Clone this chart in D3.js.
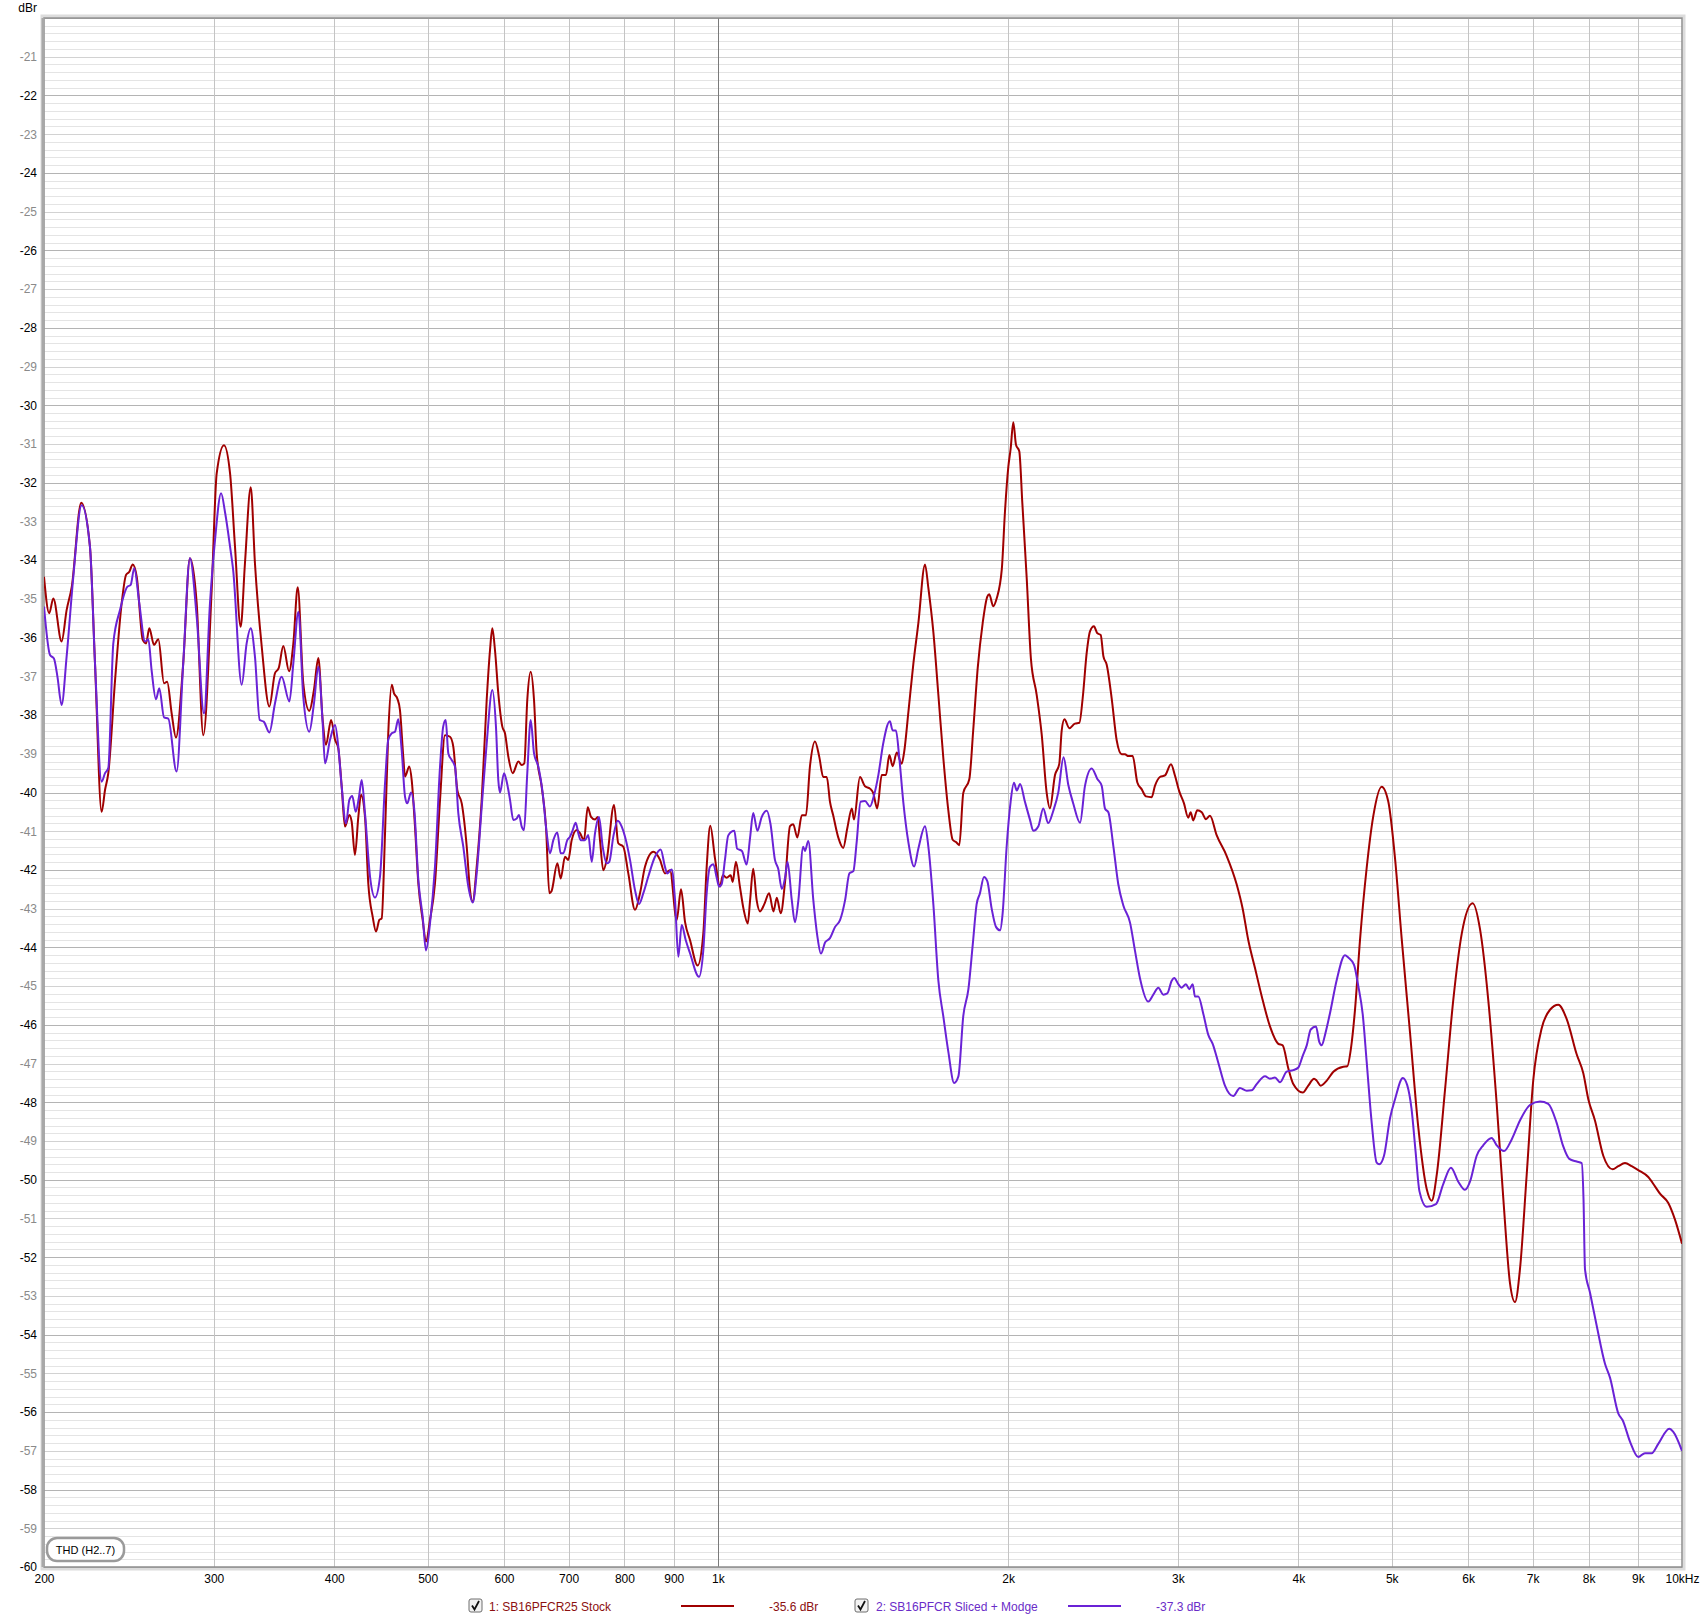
<!DOCTYPE html>
<html><head><meta charset="utf-8">
<script src="https://cdn.jsdelivr.net/npm/d3@7"></script>
<style>
html,body{margin:0;padding:0;background:#fff;}
svg{display:block;font-family:"Liberation Sans",Arial,sans-serif;}
</style></head><body>
<svg id="chart" width="1703" height="1623"></svg>
<script>
// ---- data (frequency in Hz, level in dBr) ----
const redFreq = [200,202.5,204.5,208.6,211.1,213.7,218.6,223.2,225.9,229.5,231.4,233.2,237.0,240.8,243.3,245.2,247.2,249.6,253.2,255.2,257.2,260.1,262.8,266.4,268.4,271.3,274.1,278.9,283.4,288.0,292.6,298.5,302.1,307.4,311.9,315.6,319.9,323.2,327.7,331.0,336.4,342.6,347.2,350.3,354.2,359.1,362.8,366.6,371.5,376.9,381.1,385.1,389.1,392.2,397.0,400.8,403.9,407.2,410.4,414.7,417.0,420.3,423.7,426.4,430.5,433.9,438.5,442.0,445.5,448.0,451.6,455.1,458.9,461.4,465.0,468.0,471.7,473.7,478.5,481.3,485.1,489.0,494.1,498.0,502.8,508.8,515.0,521.1,527.4,531.6,536.7,542.4,548.9,553.2,556.8,562.1,568.9,575.7,580.3,583.5,587.2,591.9,597.6,601.4,606.2,612.6,620.9,625.9,629.8,634.3,639.5,644.6,648.7,656.5,663.3,668.6,672.1,681.5,687.0,694.1,699.6,705.3,713.8,719.4,726.3,732.8,738.6,745.7,750.5,754.6,760.6,766.8,780.3,788.3,797.8,807.4,820.4,830.3,840.2,857.1,870.9,881.3,891.9,906.3,915.7,924.5,935.6,952.9,965.8,973.6,982.0,993.1,1005,1012,1021,1031,1036,1044,1054,1063,1074,1080,1088,1097,1106,1117,1130,1142,1151,1162,1174,1188,1197,1209,1222,1234,1246,1261,1274,1286,1297,1307,1317,1333,1349,1362,1377,1384,1404,1421,1438,1449,1463,1479,1494,1506,1518,1533,1551,1560,1576,1595,1614,1640,1653,1673,1693,1713,1734,1752,1766,1780,1797,1823,1840,1860,1882,1903,1912,1930,1946,1970,1985,2001,2012,2025,2038,2054,2069,2091,2112,2141,2167,2193,2210,2237,2260,2273,2288,2315,2346,2371,2390,2413,2432,2455,2475,2495,2511,2531,2561,2592,2623,2644,2665,2693,2723,2752,2780,2818,2840,2874,2909,2951,2979,3010,3044,3075,3093,3112,3142,3176,3208,3239,3291,3371,3452,3502,3549,3607,3665,3738,3813,3853,3905,3952,4042,4096,4153,4179,4220,4281,4349,4454,4496,4536,4580,4635,4709,4784,4881,4959,5039,5120,5223,5327,5435,5500,5567,5678,5791,5909,6066,6173,6296,6424,6526,6631,6711,6791,6901,7010,7153,7296,7442,7593,7776,7900,7995,8123,8286,8474,8588,8727,8868,9008,9226,9375,9488,9678,9834,10000];
const redDb = [-34.43,-35.37,-34.99,-36.10,-35.29,-34.69,-32.52,-33.65,-36.66,-40.50,-39.93,-39.50,-37.10,-35.10,-34.38,-34.30,-34.11,-34.43,-36.06,-36.15,-35.76,-36.19,-36.04,-37.18,-37.14,-37.96,-38.58,-36.66,-33.95,-35.11,-38.52,-34.77,-31.76,-31.03,-31.76,-33.65,-35.72,-34.08,-32.12,-34.08,-36.23,-37.78,-36.92,-36.79,-36.22,-36.87,-36.15,-34.70,-37.18,-37.89,-37.35,-36.53,-38.13,-38.77,-38.13,-38.64,-38.86,-39.85,-40.88,-40.58,-40.75,-41.61,-40.63,-40.06,-40.63,-42.35,-43.21,-43.59,-43.29,-43.25,-41.05,-38.47,-37.22,-37.44,-37.57,-37.87,-39.07,-39.59,-39.33,-39.68,-40.88,-42.35,-43.29,-43.85,-43.29,-42.35,-40.19,-38.52,-38.56,-38.82,-39.94,-40.28,-41.40,-42.52,-42.82,-41.92,-40.19,-37.61,-36.32,-35.76,-36.32,-37.44,-38.30,-38.47,-39.07,-39.50,-39.20,-39.29,-39.25,-37.61,-36.88,-37.61,-38.99,-39.85,-40.88,-42.60,-42.55,-41.83,-42.22,-41.66,-41.74,-41.23,-40.97,-41.05,-41.23,-40.38,-40.63,-40.70,-40.63,-41.23,-42.01,-41.74,-40.32,-41.31,-41.40,-42.09,-43.03,-42.60,-41.92,-41.53,-41.74,-42.09,-42.01,-43.29,-42.50,-43.34,-43.81,-44.47,-43.64,-41.92,-40.86,-41.70,-42.43,-42.14,-42.20,-42.14,-42.31,-41.79,-42.43,-43.00,-43.38,-42.78,-41.97,-42.78,-43.07,-42.89,-42.60,-43.07,-42.72,-43.12,-42.31,-40.87,-40.82,-41.16,-40.59,-40.59,-39.32,-38.68,-39.08,-39.60,-39.60,-40.24,-40.59,-41.16,-41.43,-40.93,-40.41,-40.70,-39.60,-39.84,-39.90,-40.01,-40.41,-39.55,-39.55,-39.03,-39.32,-38.97,-39.26,-38.97,-37.93,-36.67,-35.63,-34.11,-34.71,-35.86,-37.47,-39.09,-40.47,-41.22,-41.28,-41.36,-40.01,-39.66,-38.40,-36.78,-35.63,-34.94,-34.88,-35.19,-34.99,-34.24,-32.75,-31.59,-31.13,-30.44,-31.02,-31.19,-32.52,-34.48,-36.55,-37.47,-38.50,-40.01,-40.41,-39.55,-39.26,-38.40,-38.11,-38.34,-38.22,-38.20,-37.56,-36.39,-35.84,-35.71,-35.89,-35.93,-36.48,-36.70,-37.56,-38.65,-39.01,-39.01,-39.06,-39.06,-39.74,-39.92,-40.10,-40.12,-39.83,-39.60,-39.56,-39.27,-39.56,-39.97,-40.28,-40.65,-40.51,-40.72,-40.46,-40.51,-40.69,-40.60,-41.10,-41.64,-42.37,-43.00,-43.81,-44.54,-45.26,-46.04,-46.49,-46.53,-47.12,-47.53,-47.75,-47.57,-47.39,-47.44,-47.57,-47.44,-47.21,-47.08,-47.07,-46.60,-45.60,-43.80,-41.95,-40.61,-39.85,-40.24,-41.70,-43.78,-46.21,-48.65,-50.24,-50.54,-49.87,-47.68,-45.36,-43.65,-42.86,-43.53,-45.36,-48.04,-50.48,-52.67,-53.16,-52.31,-49.87,-47.43,-46.09,-45.61,-45.48,-45.85,-46.76,-47.25,-47.92,-48.47,-49.38,-49.73,-49.65,-49.57,-49.65,-49.75,-49.93,-50.17,-50.36,-50.60,-51.03,-51.65];

const purpleFreq = [200,202.9,204.8,206.5,208.6,211.1,214.5,218.8,223.2,225.9,229.5,231.4,233.2,236.0,239.8,244.0,246.0,248.1,251.1,254.6,256.6,258.6,261.3,263.4,266.4,269.1,274.5,278.9,283.4,288.0,293.1,297.3,300.9,305.3,308.3,311.9,314.2,320.7,324.5,327.7,331.0,334.8,338.0,342.6,347.2,352.8,359.4,362.8,367.2,371.5,376.9,381.1,385.1,389.1,391.3,396.0,400.8,403.9,407.2,411.4,414.7,417.6,421.1,424.4,427.1,430.5,435.7,440.9,446.2,451.6,455.1,458.9,462.5,466.1,469.9,473.7,476.2,480.5,484.3,489.0,494.1,498.0,502.8,508.8,515.0,518.9,522.0,525.3,529.5,533.7,538.0,544.4,551.0,556.8,562.1,568.9,575.7,583.5,588.6,591.9,594.3,600.0,603.9,608.7,613.5,618.5,621.9,625.9,629.4,634.3,639.5,644.6,651.2,658.1,664.4,669.7,675.0,681.5,687.0,691.3,697.9,702.4,707.0,712.1,716.5,720.6,728.1,733.8,739.8,745.7,752.8,759.5,766.8,771.6,779.0,787.2,794.8,801.1,810.7,820.4,828.3,836.9,846.9,860.5,872.3,881.3,886.2,895.6,902.7,909.8,917.2,926.0,935.6,955.9,965.8,973.6,981.3,989.1,997.2,1003,1009,1017,1025,1040,1047,1059,1071,1080,1088,1099,1110,1124,1134,1146,1155,1165,1174,1181,1193,1202,1212,1226,1231,1241,1256,1268,1279,1292,1307,1323,1339,1355,1369,1382,1393,1406,1421,1438,1452,1467,1484,1508,1518,1530,1542,1557,1576,1598,1614,1640,1653,1673,1693,1713,1734,1758,1776,1797,1819,1838,1855,1870,1888,1903,1923,1943,1962,1974,1993,2012,2028,2042,2058,2082,2107,2124,2150,2175,2201,2228,2255,2283,2309,2337,2375,2403,2442,2475,2501,2521,2541,2571,2602,2633,2676,2708,2741,2795,2829,2863,2897,2925,2956,2974,3003,3027,3058,3083,3108,3125,3150,3188,3226,3260,3304,3357,3424,3479,3536,3578,3621,3694,3738,3783,3829,3890,3952,4000,4042,4081,4120,4172,4205,4230,4263,4314,4384,4471,4507,4569,4616,4665,4709,4766,4823,4853,4908,4979,5039,5134,5187,5241,5292,5342,5435,5556,5654,5759,5861,5955,6027,6124,6221,6347,6424,6537,6658,6791,6955,7124,7266,7413,7531,7640,7776,7870,7904,7932,8028,8157,8320,8420,8588,8679,8832,9008,9154,9301,9449,9701,9794,10000];
const purpleDb = [-35.20,-36.45,-36.54,-37.00,-37.74,-36.49,-34.43,-32.58,-33.65,-36.66,-39.72,-39.50,-39.37,-36.15,-35.29,-34.69,-34.64,-34.21,-35.11,-36.10,-36.04,-36.84,-37.59,-37.31,-38.06,-38.09,-39.46,-36.66,-33.95,-35.46,-37.96,-35.11,-33.48,-32.27,-32.79,-33.65,-34.25,-37.22,-36.15,-35.76,-36.49,-38.13,-38.17,-38.45,-37.70,-37.01,-37.65,-36.66,-35.33,-37.53,-38.43,-37.70,-36.75,-38.21,-39.25,-38.64,-38.26,-38.82,-39.85,-40.80,-40.19,-40.09,-40.50,-40.11,-39.68,-40.54,-42.17,-42.71,-42.17,-39.76,-38.64,-38.47,-38.43,-38.11,-38.90,-40.11,-40.28,-40.00,-40.45,-42.26,-43.21,-44.08,-43.38,-41.92,-39.33,-38.30,-38.13,-38.99,-39.16,-39.33,-40.54,-41.40,-42.43,-42.84,-42.09,-40.37,-38.73,-37.35,-38.30,-39.68,-40.00,-39.50,-39.72,-40.19,-40.71,-40.67,-40.58,-40.88,-40.97,-39.50,-38.13,-38.99,-39.33,-40.02,-41.05,-41.57,-41.23,-41.03,-41.57,-41.57,-41.23,-41.14,-40.97,-40.78,-41.05,-41.23,-41.23,-41.10,-41.79,-41.05,-40.63,-41.40,-41.83,-41.79,-41.14,-40.73,-40.88,-41.14,-41.74,-42.52,-42.88,-42.60,-42.17,-41.66,-41.47,-41.92,-42.09,-41.99,-42.78,-44.24,-43.42,-43.81,-44.15,-44.76,-44.07,-42.60,-41.92,-41.85,-42.20,-42.43,-42.37,-41.74,-41.11,-40.99,-41.45,-41.51,-41.86,-41.16,-40.53,-40.99,-40.64,-40.47,-40.82,-41.74,-41.97,-42.49,-42.20,-41.79,-42.78,-43.35,-42.78,-41.40,-41.51,-41.25,-42.78,-43.70,-44.16,-43.87,-43.76,-43.47,-43.29,-42.78,-42.09,-42.03,-41.28,-40.24,-40.22,-40.36,-40.07,-39.55,-38.74,-38.16,-38.40,-38.40,-39.09,-40.24,-41.28,-41.91,-41.45,-40.87,-41.39,-42.89,-44.85,-45.77,-46.70,-47.50,-47.33,-45.77,-45.08,-43.93,-42.89,-42.60,-42.18,-42.29,-43.00,-43.47,-43.56,-43.12,-41.40,-40.24,-39.75,-39.95,-39.78,-40.24,-40.70,-40.99,-40.87,-40.41,-40.79,-40.47,-39.99,-39.09,-39.80,-40.29,-40.78,-39.83,-39.38,-39.65,-39.83,-40.42,-40.51,-41.37,-42.37,-42.91,-43.36,-44.09,-44.81,-45.40,-45.22,-45.04,-45.22,-45.19,-44.86,-44.79,-44.95,-45.04,-44.95,-45.08,-44.95,-45.27,-45.27,-45.72,-46.26,-46.49,-46.98,-47.57,-47.84,-47.63,-47.70,-47.69,-47.53,-47.33,-47.39,-47.36,-47.48,-47.21,-47.17,-47.10,-46.80,-46.53,-46.12,-46.04,-46.44,-46.53,-46.26,-45.70,-44.84,-44.20,-44.26,-44.45,-45.00,-45.73,-46.95,-48.53,-49.56,-49.60,-49.38,-48.41,-47.92,-47.37,-47.55,-48.16,-49.26,-50.30,-50.70,-50.63,-50.11,-49.69,-50.05,-50.26,-50.05,-49.38,-49.11,-48.92,-49.11,-49.26,-48.96,-48.47,-48.07,-47.98,-48.04,-48.53,-49.14,-49.46,-49.53,-49.57,-50.50,-52.31,-52.92,-53.77,-54.75,-55.11,-56.03,-56.21,-56.76,-57.16,-57.06,-57.06,-56.82,-56.43,-56.51,-57.00];

const xTickValues = [200,300,400,500,600,700,800,900,1000,2000,3000,4000,5000,6000,7000,8000,9000,10000];
const xTickLabels = ["200","300","400","500","600","700","800","900","1k","2k","3k","4k","5k","6k","7k","8k","9k","10kHz"];
const yTickValues = [-21,-22,-23,-24,-25,-26,-27,-28,-29,-30,-31,-32,-33,-34,-35,-36,-37,-38,-39,-40,-41,-42,-43,-44,-45,-46,-47,-48,-49,-50,-51,-52,-53,-54,-55,-56,-57,-58,-59,-60];
const seriesNames = ["1: SB16PFCR25 Stock","2: SB16PFCR Sliced + Modge"];
const seriesLevels = ["-35.6 dBr","-37.3 dBr"];
const seriesColors = ["#a00000","#6a22d6"];
const legendTextColors = ["#8c1010","#6a2cc8"];

// ---- layout ----
const L = 44, R = 1682, T = 18, B = 1567;
const svg = d3.select("#chart");
const x = d3.scaleLog().domain([200,10000]).range([L,R]);
const y = d3.scaleLinear().domain([-60,-20]).range([B,T]);

// frame shadow
svg.append("rect").attr("x",L-2).attr("y",T-2).attr("width",R-L+4).attr("height",B-T+4)
  .attr("fill","none").attr("stroke","#dcdcdc").attr("stroke-width",3);
svg.append("rect").attr("x",L).attr("y",T).attr("width",R-L).attr("height",B-T).attr("fill","#fff");

const grid = svg.append("g");
// minor horizontal lines every 0.2 dB
d3.range(0,201).forEach(i=>{
  const v = -60 + i*0.2;
  const r = Math.round(v*5)/5;
  const isInt = Math.abs(r - Math.round(r)) < 1e-6;
  let col = "#e4e4e4";
  if (isInt) col = (Math.round(r) % 2 === 0) ? "#b4b4b4" : "#d2d2d2";
  grid.append("line").attr("x1",L).attr("x2",R)
    .attr("y1",Math.round(y(r))+0.5).attr("y2",Math.round(y(r))+0.5)
    .attr("stroke",col).attr("stroke-width",1);
});
// vertical lines
xTickValues.slice(1,-1).forEach(f=>{
  grid.append("line").attr("x1",Math.round(x(f))+0.5).attr("x2",Math.round(x(f))+0.5)
    .attr("y1",T).attr("y2",B)
    .attr("stroke", f===1000 ? "#7a7a7a" : "#c4c4c4").attr("stroke-width",1);
});

// frame
svg.append("rect").attr("x",L).attr("y",T).attr("width",R-L).attr("height",B-T)
  .attr("fill","none").attr("stroke","#8e8e8e").attr("stroke-width",1.5);
svg.append("line").attr("x1",L-1).attr("x2",L-1).attr("y1",T).attr("y2",B)
  .attr("stroke","#a8a8a8").attr("stroke-width",3);

// curves
const line = d3.line().x(d=>x(d[0])).y(d=>y(d[1])).curve(d3.curveMonotoneX);
const redData = redFreq.map((f,i)=>[f,redDb[i]]);
const purpleData = purpleFreq.map((f,i)=>[f,purpleDb[i]]);
const clip = svg.append("clipPath").attr("id","clip").append("rect")
  .attr("x",L).attr("y",T).attr("width",R-L).attr("height",B-T);
const curves = svg.append("g").attr("clip-path","url(#clip)");
curves.append("path").datum(redData).attr("d",line).attr("fill","none")
  .attr("stroke",seriesColors[0]).attr("stroke-width",2).attr("stroke-linejoin","round");
curves.append("path").datum(purpleData).attr("d",line).attr("fill","none")
  .attr("stroke",seriesColors[1]).attr("stroke-width",2).attr("stroke-linejoin","round");

// y axis labels
const yAxis = svg.append("g").attr("transform",`translate(${L},0)`)
  .call(d3.axisLeft(y).tickValues(yTickValues).tickSize(0).tickPadding(7).tickFormat(d=>String(d)));
yAxis.select(".domain").remove();
yAxis.selectAll("text").attr("font-size",12).attr("font-family","Liberation Sans, Arial, sans-serif")
  .attr("fill",d=> (d%2===0) ? "#000" : "#8a8a8a");
svg.append("text").attr("x",37).attr("y",12).attr("text-anchor","end")
  .attr("font-size",12).attr("fill","#000").text("dBr");

// x axis labels
const xAxis = svg.append("g").attr("transform",`translate(0,${B})`)
  .call(d3.axisBottom(x).tickValues(xTickValues).tickSize(0).tickPadding(7)
    .tickFormat((d,i)=>xTickLabels[i]));
xAxis.select(".domain").remove();
xAxis.selectAll("text").attr("font-size",12).attr("font-family","Liberation Sans, Arial, sans-serif").attr("fill","#000");

// THD box
svg.append("rect").attr("x",47).attr("y",1538).attr("width",77).attr("height",23).attr("rx",10)
  .attr("fill","#fff").attr("stroke","#9a9a9a").attr("stroke-width",2.5);
svg.append("text").attr("x",85.5).attr("y",1553.5).attr("text-anchor","middle")
  .attr("font-size",11).attr("fill","#000").text("THD (H2..7)");

// legend
const legendY = 1606;
const legendItems = [
  {cb:469, txt:489, l1:681, l2:734, lvl:769},
  {cb:855, txt:876, l1:1068, l2:1121, lvl:1156}
];
legendItems.forEach((p,i)=>{
  const g = svg.append("g");
  g.append("rect").attr("x",p.cb).attr("y",legendY-7).attr("width",13).attr("height",13).attr("rx",2)
    .attr("fill","#f2f2f2").attr("stroke","#6e6e6e").attr("stroke-width",1);
  g.append("path").attr("d",`M${p.cb+3},${legendY-0.5} L${p.cb+5.5},${legendY+3.5} L${p.cb+10},${legendY-5}`)
    .attr("fill","none").attr("stroke","#111").attr("stroke-width",1.8);
  g.append("text").attr("x",p.txt).attr("y",legendY+4.5).attr("font-size",12)
    .attr("fill",legendTextColors[i]).text(seriesNames[i]);
  g.append("line").attr("x1",p.l1).attr("x2",p.l2).attr("y1",legendY).attr("y2",legendY)
    .attr("stroke",seriesColors[i]).attr("stroke-width",2);
  g.append("text").attr("x",p.lvl).attr("y",legendY+4.5).attr("font-size",12)
    .attr("fill",legendTextColors[i]).text(seriesLevels[i]);
});
</script>
</body></html>
